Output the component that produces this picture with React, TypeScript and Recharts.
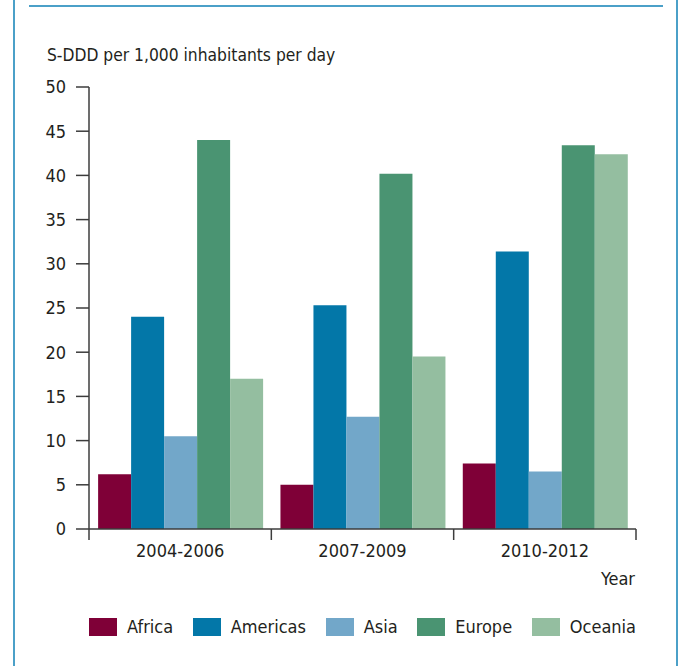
import { Bar, BarChart, XAxis, YAxis } from "recharts";

const periods = ["2004-2006", "2007-2009", "2010-2012"];
const africa = [6.2, 5.0, 7.4];
const americas = [24.0, 25.3, 31.4];
const asia = [10.5, 12.7, 6.5];
const europe = [44.0, 40.2, 43.4];
const oceania = [17.0, 19.5, 42.4];
const yTicks = [0, 5, 10, 15, 20, 25, 30, 35, 40, 45, 50];

const series = [
  { key: "Africa", color: "#7f0037" },
  { key: "Americas", color: "#0377a8" },
  { key: "Asia", color: "#72a7c9" },
  { key: "Europe", color: "#4a9472" },
  { key: "Oceania", color: "#94bea0" },
];

const data = periods.map((p, i) => ({
  period: p,
  Africa: africa[i],
  Americas: americas[i],
  Asia: asia[i],
  Europe: europe[i],
  Oceania: oceania[i],
}));

const W = 678;
const H = 666;
const M = { top: 87, right: 42, left: 0, bottom: 97 };
const Y_W = 89;
const X_H = 40;
const PLOT_W = W - M.left - M.right - Y_W;
const BAND = PLOT_W / periods.length;
const AXIS_Y = H - M.bottom - X_H;

const FONT = "'Liberation Sans Narrow', 'DejaVu Sans Condensed', Roboto, sans-serif";
const INK = "#231f20";
const AXIS = "#3c3c3c";
const FRAME = "#4ba0c8";

function PeriodTick(props: any) {
  const { x, payload, index } = props;
  const left = x - BAND / 2;
  const right = x + BAND / 2;
  return (
    <g>
      <line x1={left} x2={left} y1={AXIS_Y} y2={AXIS_Y + 11} stroke={AXIS} strokeWidth={1.5} />
      {index === periods.length - 1 && (
        <line x1={right} x2={right} y1={AXIS_Y} y2={AXIS_Y + 11} stroke={AXIS} strokeWidth={1.5} />
      )}
      <text x={x} y={AXIS_Y + 28} textAnchor="middle" fill={INK} fontSize={18} fontFamily={FONT}>
        {payload.value}
      </text>
    </g>
  );
}

export default function App() {
  return (
    <div style={{ position: "absolute", left: 0, top: 0, width: W, height: H, background: "#fff", fontFamily: FONT, color: INK }}>
      <div style={{ position: "absolute", left: 13, top: 0, width: 2, height: H, background: FRAME }} />
      <div style={{ position: "absolute", left: 676, top: 0, width: 2, height: H, background: FRAME }} />
      <div style={{ position: "absolute", left: 29, top: 5, width: 634, height: 2, background: FRAME }} />
      <div style={{ position: "absolute", left: 47, top: 43, fontSize: 17.3, lineHeight: "24px" }}>
        S-DDD per 1,000 inhabitants per day
      </div>
      <BarChart
        width={W}
        height={H}
        data={data}
        margin={M}
        barCategoryGap="5%"
        barGap={0}
        style={{ position: "absolute", left: 0, top: 0 }}
      >
        <XAxis
          dataKey="period"
          height={X_H}
          tickLine={false}
          axisLine={{ stroke: AXIS, strokeWidth: 1.5 }}
          tick={<PeriodTick />}
          interval={0}
        />
        <YAxis
          width={Y_W}
          domain={[0, 50]}
          ticks={yTicks}
          interval={0}
          tickSize={13}
          tickMargin={10}
          axisLine={{ stroke: AXIS, strokeWidth: 1.5 }}
          tickLine={{ stroke: AXIS, strokeWidth: 1.5 }}
          tick={{ fill: INK, fontSize: 18, fontFamily: FONT }}
        />
        {series.map((s) => (
          <Bar key={s.key} dataKey={s.key} fill={s.color} isAnimationActive={false} />
        ))}
      </BarChart>
      <div style={{ position: "absolute", right: W - 635, top: 567, fontSize: 18, lineHeight: "24px" }}>Year</div>
      <div
        style={{
          position: "absolute",
          left: 89,
          top: 616,
          width: 547,
          display: "flex",
          justifyContent: "space-between",
          alignItems: "center",
          fontSize: 18,
          lineHeight: "22px",
        }}
      >
        {series.map((s) => (
          <div key={s.key} style={{ display: "flex", alignItems: "center" }}>
            <span style={{ display: "inline-block", width: 28, height: 18, background: s.color, marginRight: 10 }} />
            <span>{s.key}</span>
          </div>
        ))}
      </div>
    </div>
  );
}
